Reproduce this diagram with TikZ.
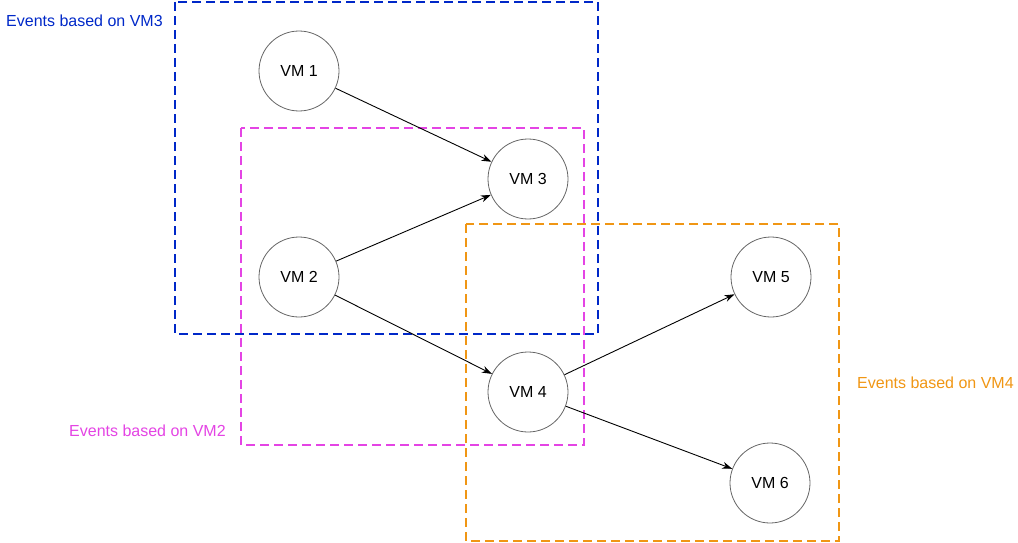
\documentclass[tikz,border=0pt]{standalone}
\usepackage{fontspec}
\setmainfont{Liberation Sans}
\usepackage{tikz}
\usetikzlibrary{arrows.meta}
\definecolor{vmblue}{RGB}{0,40,200}
\definecolor{vmpink}{RGB}{228,68,228}
\definecolor{vmorange}{RGB}{240,150,20}

\begin{document}
\begin{tikzpicture}[x=1pt, y=-1pt, font=\fontsize{16}{19}\selectfont,
	main/.style = {draw=black!60, circle, minimum size=80pt, inner sep=0pt, line width=0.8pt},
	group/.style = {line width=1.8pt, dash pattern=on 9pt off 5pt},
	edge/.style = {-{Stealth[length=10pt, width=7pt]}, line width=0.9pt}]
	\useasboundingbox (0,0) rectangle (1018,543);
	\draw[group, vmblue] (175,2) rectangle (598,334);
	\draw[group, vmpink] (241,128) rectangle (584,445);
	\draw[group, vmorange] (466,224) rectangle (839,541);
	\node[main] (A) at (299,71){VM 1};
	\node[main] (C) at (528,179){VM 3};
	\node[main] (B) at (299,277){VM 2};
	\node[main] (D) at (528,392){VM 4};
	\node[main] (E) at (771,277){VM 5};
	\node[main] (F) at (770,483){VM 6};
	\node[text=vmblue, anchor=west, inner sep=0pt] (LB) at (6,21){Events based on VM3};
	\node[text=vmpink, anchor=west, inner sep=0pt] (LP) at (69,431){Events based on VM2};
	\node[text=vmorange, anchor=west, inner sep=0pt] (LO) at (857,383){Events based on VM4};
	\draw[edge] (A) -- (C);
	\draw[edge] (B) -- (C);
	\draw[edge] (B) -- (D);
	\draw[edge] (D) -- (E);
	\draw[edge] (D) -- (F);
\end{tikzpicture}
\end{document}
